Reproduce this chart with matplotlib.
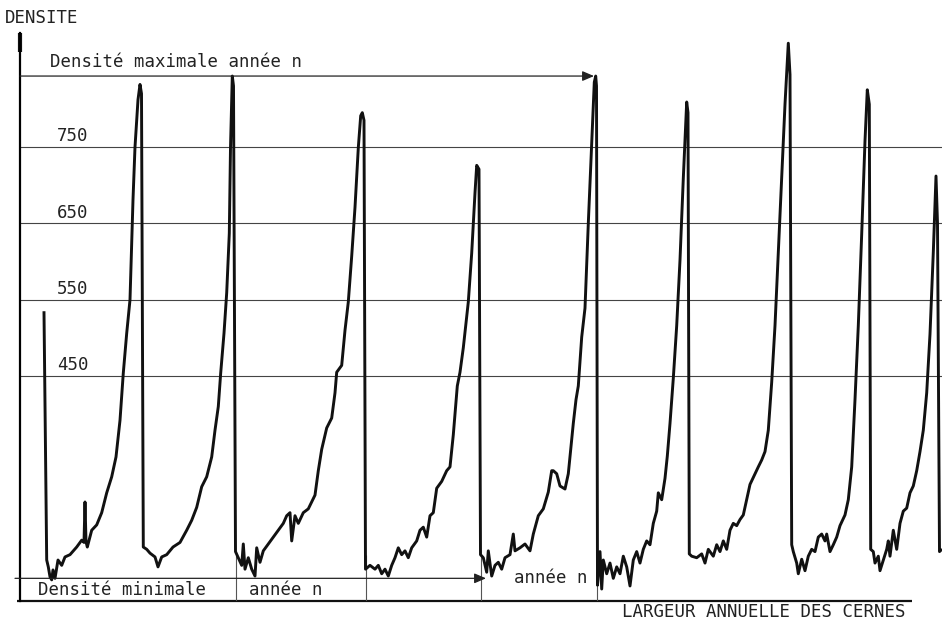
import matplotlib.pyplot as plt

# profil densitometrique : (position, densite)
cerne_0 = [(44, 533), (46.7, 209), (48.3, 200), (50, 187), (51.7, 183), (53, 196),
           (55, 185), (58, 209), (61.7, 202), (65, 213), (70, 216), (76.7, 226),
           (81.7, 235), (84, 232), (85, 285), (86, 233), (87.3, 226), (91.7, 248),
           (96.7, 255), (101.7, 271), (106.7, 297), (111.7, 318), (116, 344),
           (120, 392), (123.3, 454), (126.7, 506), (130, 550), (133, 681),
           (135, 750), (138, 812), (140, 832), (141.5, 820)]
cerne_1 = [(143.3, 226), (146.7, 223), (150, 218), (155, 213), (158, 200),
           (161.7, 213), (166.7, 216), (173, 226), (180, 232), (186.7, 248),
           (191.7, 261), (196.7, 278), (201.7, 305), (206.7, 318), (211.7, 344),
           (215, 379), (218.3, 410), (220.7, 454), (224, 506), (226.7, 559),
           (229.3, 637), (230.5, 749), (232.3, 843), (233.5, 830)]
cerne_2 = [(235.5, 220), (238.3, 212), (241.7, 202), (243.3, 230), (245, 197),
           (248.3, 212), (251.7, 197), (255, 188), (256.7, 225), (260, 206),
           (263.3, 221), (268.3, 230), (273.3, 239), (278.3, 248), (283.3, 257),
           (286.7, 267), (290, 271), (291.7, 234), (295, 267), (298.3, 257),
           (303.3, 271), (308.3, 276), (311.7, 285), (315, 294), (318.3, 326),
           (321.7, 354), (326.7, 382), (331.7, 395), (335, 428), (336.7, 455),
           (341.7, 464), (345, 510), (348.3, 547), (351.7, 607), (355, 671),
           (358.3, 749), (360.7, 791), (362.3, 795), (364, 785)]
cerne_3 = [(365.5, 197), (370, 202), (375, 197), (378.3, 202), (381.7, 191),
           (385, 197), (388.3, 188), (391.7, 202), (395, 212), (398.3, 225),
           (401.7, 216), (405, 221), (408.3, 212), (411.7, 225), (416.7, 234),
           (420, 248), (423.3, 252), (426.7, 239), (430, 267), (433.3, 271),
           (436.7, 303), (441.7, 312), (446.7, 326), (450, 331), (453.3, 373),
           (457.3, 437), (460, 455), (463.3, 487), (468.3, 547), (471.7, 611),
           (475, 690), (476.7, 726), (479, 721)]
cerne_4 = [(480.5, 216), (483.3, 212), (486.7, 193), (488.3, 221), (491.7, 188),
           (495, 202), (498.3, 206), (501.7, 197), (505, 212), (510, 216),
           (513.3, 243), (515, 221), (520, 225), (525, 230), (530, 221),
           (533.3, 243), (538.3, 267), (543.3, 276), (548.3, 298), (551.7, 326),
           (553.3, 326), (556.7, 322), (560, 306), (565, 302), (568.3, 322),
           (570.7, 354), (573.3, 388), (576, 419), (578.3, 437), (581.7, 501),
           (585, 539), (588.3, 650), (591.7, 753), (594.3, 835), (595.7, 843),
           (596.5, 830)]
cerne_5 = [(597.5, 176), (600, 220), (601.7, 171), (603.3, 209), (606.7, 191),
           (610, 205), (613.3, 185), (616.7, 200), (620, 191), (623.3, 214),
           (626.7, 200), (630, 175), (633.3, 209), (636.7, 220), (640, 205),
           (643.3, 223), (646.7, 234), (650, 229), (653.3, 257), (656.7, 273),
           (658.3, 297), (661.7, 288), (665, 316), (667.3, 345), (670, 388),
           (673.3, 447), (676.7, 516), (680, 602), (683.3, 709), (685.7, 781),
           (686.7, 809), (688, 795)]
cerne_6 = [(689.3, 217), (691.7, 214), (696.7, 212), (701.7, 217), (705, 205),
           (708.3, 223), (713.3, 214), (716.7, 229), (720, 220), (723.3, 234),
           (726.7, 223), (730, 248), (733.3, 257), (736.7, 254), (740, 262),
           (743.3, 268), (746.7, 288), (750, 308), (755, 322), (758.3, 331),
           (761.7, 340), (765, 351), (768.3, 379), (771.7, 442), (775, 516),
           (778.3, 612), (781.7, 709), (785, 806), (788.3, 886), (790, 845)]
cerne_7 = [(791.7, 229), (793.3, 220), (796.7, 205), (798.3, 191), (801.7, 210),
           (805, 195), (808.3, 214), (811.7, 223), (815, 220), (818.3, 239),
           (821.7, 243), (825, 234), (826.7, 243), (830, 220), (833.3, 229),
           (836.7, 239), (840, 254), (845, 268), (848.3, 288), (851.7, 331),
           (855, 419), (858.3, 516), (861.7, 636), (865, 758), (867.3, 825),
           (869.3, 806)]
cerne_8 = [(870.7, 223), (873.3, 220), (875, 205), (878.3, 214), (880, 195),
           (883.3, 209), (886.7, 223), (888.3, 234), (890, 214), (893.3, 248),
           (896.7, 223), (900, 257), (903.3, 273), (906.7, 277), (910, 297),
           (913.3, 306), (916.7, 326), (920, 351), (923.3, 379), (926.7, 428),
           (930, 505), (933.3, 612), (936, 712), (937.5, 650), (939.5, 220),
           (941, 222)]

niveaux = [450, 550, 650, 750]
dens_max = 843          # densite maximale annee n
dens_min = 185          # densite minimale
limites_cernes = [235.5, 365.5, 480.5, 597.3]

profil = cerne_0 + cerne_1 + cerne_2 + cerne_3 + cerne_4 + cerne_5 + cerne_6 + cerne_7 + cerne_8
xs = [p[0] for p in profil]
ds = [p[1] for p in profil]

police = dict(family='DejaVu Sans Mono', fontsize=12.5, color='#222222')

fig = plt.figure(figsize=(9.42, 6.22), dpi=100)
ax = fig.add_axes([20 / 942, 21 / 622, 922 / 942, 568 / 622])
ax.set_xlim(20, 942)
ax.set_ylim(155.3, 899.4)
for s in ['top', 'right', 'bottom']:
    ax.spines[s].set_visible(False)
ax.spines['left'].set_linewidth(1.6)
ax.set_xticks([])
ax.set_yticks([])

# lignes de niveau
for n in niveaux:
    ax.axhline(n, color='#444444', lw=0.8)
    ax.text(57, n + 14, str(n), va='center', **police)

# axe des abscisses
ax.hlines(155.3, 17, 912, color='#111111', lw=1.6, clip_on=False)
ax.vlines(limites_cernes, 155.3, 215, color='#555555', lw=0.8)
# bout plus epais en haut de l'axe vertical
ax.vlines(20, 875, 899.4, color='#111111', lw=3, clip_on=False)

# fleches
ax.annotate('', xy=(594, dens_max), xytext=(20, dens_max),
            arrowprops=dict(arrowstyle='-|>,head_length=0.7,head_width=0.3',
                            color='#222222', lw=0.9, shrinkA=0, shrinkB=0))
ax.annotate('', xy=(486, dens_min), xytext=(15, dens_min),
            arrowprops=dict(arrowstyle='-|>,head_length=0.7,head_width=0.3',
                            color='#222222', lw=0.9, shrinkA=0, shrinkB=0),
            annotation_clip=False)

ax.plot(xs, ds, color='#111111', lw=2.1, solid_joinstyle='round')

ax.text(50, 861, 'Densité maximale année n', va='center', **police)
ax.text(38, 170, 'Densité minimale', va='center', **police)
ax.text(249, 170, 'année n', va='center', **police)
ax.text(514, 186, 'année n', va='center', **police)

fig.text(5 / 942, 1 - 18 / 622, 'DENSITE', va='center', **police)
fig.text(622 / 942, 1 - 612 / 622, 'LARGEUR ANNUELLE DES CERNES', va='center', **police)

fig.savefig('out.png', dpi=100)
